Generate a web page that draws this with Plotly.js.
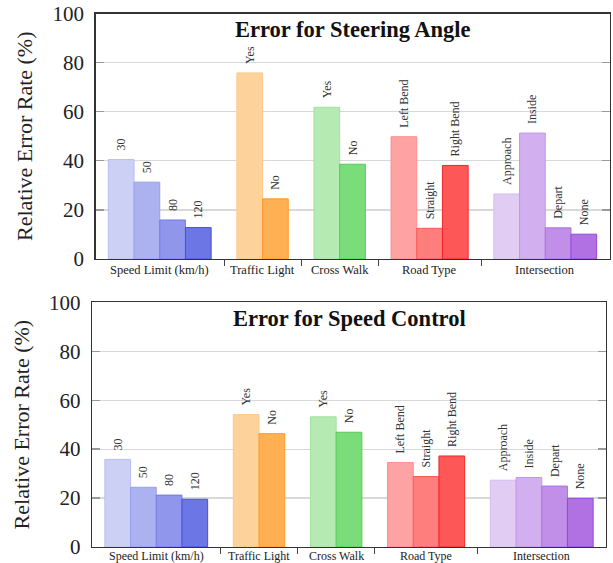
<!DOCTYPE html>
<html>
<head>
<meta charset="utf-8">
<script src="https://cdn.plot.ly/plotly-3.0.1.min.js"></script>
<style>html,body{margin:0;padding:0;background:#fff;}#chart{width:613px;height:563px;}</style>
</head>
<body>
<div id="chart"></div>
<script>
// ---- data ----
const groupNames = ['Speed Limit (km/h)', 'Traffic Light', 'Cross Walk', 'Road Type', 'Intersection'];
const speedLimitLabels = ['30', '50', '80', '120'];
const trafficLightLabels = ['Yes', 'No'];
const crossWalkLabels = ['Yes', 'No'];
const roadTypeLabels = ['Left Bend', 'Straight', 'Right Bend'];
const intersectionLabels = ['Approach', 'Inside', 'Depart', 'None'];

const steerSpeedLimit = [40.5, 31.3, 15.9, 12.8];
const steerTrafficLight = [75.8, 24.5];
const steerCrossWalk = [61.8, 38.6];
const steerRoadType = [49.8, 12.5, 38.1];
const steerIntersection = [26.5, 51.3, 12.7, 10.1];

const speedSpeedLimit = [35.8, 24.4, 21.2, 19.5];
const speedTrafficLight = [54.1, 46.3];
const speedCrossWalk = [53.2, 46.9];
const speedRoadType = [34.5, 28.8, 37.2];
const speedIntersection = [27.3, 28.4, 24.9, 19.9];

// ---- styles ----
const fillColors = [
  ['rgb(205,208,245)', 'rgb(172,178,240)', 'rgb(143,150,235)', 'rgb(108,118,228)'],
  ['rgb(253,211,155)', 'rgb(254,176,82)'],
  ['rgb(181,234,178)', 'rgb(122,221,122)'],
  ['rgb(254,163,163)', 'rgb(254,125,125)', 'rgb(254,87,87)'],
  ['rgb(225,205,244)', 'rgb(210,175,238)', 'rgb(193,143,232)', 'rgb(178,113,226)']
];
const lineColors = [
  ['rgb(184,189,242)', 'rgb(150,158,236)', 'rgb(115,125,230)', 'rgb(70,82,222)'],
  ['rgb(252,200,140)', 'rgb(250,155,45)'],
  ['rgb(160,226,156)', 'rgb(85,205,85)'],
  ['rgb(252,140,140)', 'rgb(250,90,90)', 'rgb(240,40,40)'],
  ['rgb(212,188,240)', 'rgb(195,150,234)', 'rgb(170,115,226)', 'rgb(150,70,220)']
];

const labelSets = [speedLimitLabels, trafficLightLabels, crossWalkLabels, roadTypeLabels, intersectionLabels];
const steerSets = [steerSpeedLimit, steerTrafficLight, steerCrossWalk, steerRoadType, steerIntersection];
const speedSets = [speedSpeedLimit, speedTrafficLight, speedCrossWalk, speedRoadType, speedIntersection];

// slot layout: one empty slot between groups
const xs = [], texts = [], fills = [], lines = [], groupCenters = [], separators = [];
let pos = 1;
labelSets.forEach((labs, g) => {
  const start = pos;
  labs.forEach((l, i) => {
    xs.push(pos); texts.push('\u00a0\u00a0' + l);
    fills.push(fillColors[g][i]); lines.push(lineColors[g][i]);
    pos++;
  });
  groupCenters.push((start + pos - 1) / 2);
  if (g < labelSets.length - 1) separators.push(pos);
  pos++;
});

const serif = 'Liberation Serif, Times New Roman, serif';

function barTrace(sets, xa, ya) {
  return {
    type: 'bar', x: xs, y: [].concat(...sets), xaxis: xa, yaxis: ya,
    width: 1,
    marker: {color: fills, line: {color: lines, width: 1}},
    text: texts, textposition: 'outside', textangle: -90,
    constraintext: 'none', cliponaxis: false,
    textfont: {family: serif, size: 12, color: '#333'},
    hoverinfo: 'skip'
  };
}

const data = [barTrace(steerSets, 'x', 'y'), barTrace(speedSets, 'x2', 'y2')];

function xAxis(domain, anchor) {
  return {
    domain: domain, anchor: anchor, range: [0, 20],
    tickvals: separators, ticktext: separators.map(() => ''),
    ticks: 'outside', ticklen: 6, tickcolor: '#444', tickwidth: 1,
    showgrid: false, zeroline: false,
    showline: true, linecolor: '#333', linewidth: 1.3, mirror: true,
    fixedrange: true
  };
}
function yAxis(domain, anchor) {
  return {
    domain: domain, anchor: anchor, range: [0, 100],
    tickvals: [0, 20, 40, 60, 80, 100],
    ticks: 'inside', ticklen: 8, tickcolor: '#999', tickwidth: 1.3,
    showgrid: true, gridcolor: '#d9d9d9', gridwidth: 1.2, zeroline: false,
    showline: true, linecolor: '#333', linewidth: 1.3, mirror: 'ticks',
    ticklabelstandoff: 6,
    tickfont: {family: serif, size: 21, color: '#222'},
    title: {text: 'Relative Error Rate (%)', font: {family: serif, size: 22, color: '#222'}, standoff: 13},
    fixedrange: true
  };
}

const annotations = [];
[['x', 'y', -2, 12.5], ['x2', 'y2', 0, 12]].forEach(([xa, ya, ys, fs]) => {
  groupNames.forEach((name, g) => {
    annotations.push({
      xref: xa, yref: ya, x: groupCenters[g], y: 0, yanchor: 'top', yshift: ys,
      text: name, showarrow: false, font: {family: serif, size: fs, color: '#222'}
    });
  });
});
annotations.push({
  xref: 'x domain', yref: 'y domain', x: 0.5, y: 0.935, yanchor: 'middle',
  text: '<b>Error for Steering Angle</b>', showarrow: false,
  font: {family: serif, size: 22.5, color: '#111'}
});
annotations.push({
  xref: 'x2 domain', yref: 'y2 domain', x: 0.5, y: 0.935, yanchor: 'middle',
  text: '<b>Error for Speed Control</b>', showarrow: false,
  font: {family: serif, size: 22.5, color: '#111'}
});

const layout = {
  width: 613, height: 563,
  margin: {l: 0, r: 0, t: 0, b: 0},
  paper_bgcolor: '#fff', plot_bgcolor: '#fff',
  showlegend: false, bargap: 0,
  xaxis: xAxis([95.5 / 613, 609.5 / 613], 'y'),
  yaxis: yAxis([1 - 259 / 563, 1 - 13.5 / 563], 'x'),
  xaxis2: xAxis([92 / 613, 606 / 613], 'y2'),
  yaxis2: yAxis([1 - 547 / 563, 1 - 302.3 / 563], 'x2'),
  annotations: annotations
};

Plotly.newPlot('chart', data, layout, {staticPlot: true, displayModeBar: false});
</script>
</body>
</html>
